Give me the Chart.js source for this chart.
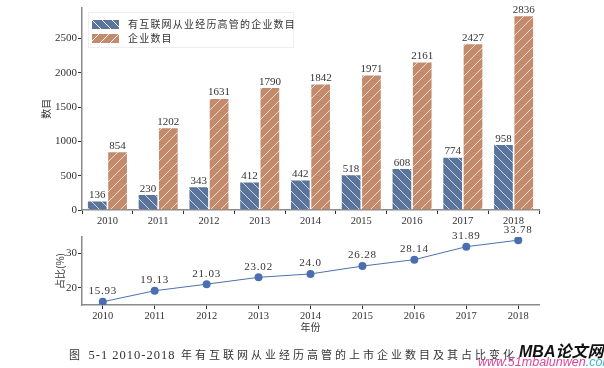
<!DOCTYPE html>
<html>
<head>
<meta charset="utf-8">
<script src="https://cdn.jsdelivr.net/npm/chart.js@4.4.1/dist/chart.umd.min.js"></script>
<style>
  body { margin: 0; background: #fff; width: 604px; height: 368px; position: relative; overflow: hidden; }
  .box { position: absolute; left: 0; width: 604px; }
  #legend { position: absolute; left: 88px; top: 12px; width: 204px; height: 34px; border: 1px solid #eee;
    background: rgba(255,255,255,0.85); font-family: "Noto Sans CJK SC", sans-serif; font-size: 10px; color: #333; }
  #legend .row { position: absolute; left: 3px; height: 12px; line-height: 12px; letter-spacing: 1.2px; white-space: nowrap; }
  #legend .sw { display: inline-block; width: 27px; height: 9px; vertical-align: middle; margin-right: 9px; margin-top: -2px; }
  #caption { position: absolute; left: 69px; top: 346px; font-family: "Noto Sans CJK SC", sans-serif; font-size: 11px;
    letter-spacing: 3px; color: #333; white-space: nowrap; }
  #caption .n { font-family: "Liberation Serif", serif; font-size: 12.5px; letter-spacing: 1px; }
  #wm1 { position: absolute; left: 519px; top: 338px; font-family: "Liberation Sans", "Noto Sans CJK SC", sans-serif;
    font-weight: bold; font-style: italic; font-size: 16px; color: #111; white-space: nowrap; }
  #wm2 { position: absolute; left: 478px; top: 355px; font-family: "Liberation Sans", sans-serif; font-style: italic;
    font-size: 12.5px; white-space: nowrap; color: #e0449c; }
  #wm2 span { color: #3ab6c9; }
</style>
</head>
<body>
<div class="box" style="top:0;height:230px"><canvas id="bars"></canvas></div>
<div class="box" style="top:220px;height:115px"><canvas id="line"></canvas></div>
<div id="legend">
  <div class="row" style="top:5px"><span class="sw" style="background:repeating-linear-gradient(45deg,#5b749b 0 6px,rgba(255,255,255,.75) 6px 7px)"></span>有互联网从业经历高管的企业数目</div>
  <div class="row" style="top:19px"><span class="sw" style="background:repeating-linear-gradient(-45deg,#c38b6c 0 6px,rgba(255,255,255,.75) 6px 7px)"></span>企业数目</div>
</div>
<div id="caption">图 <span class="n">5-1 2010-2018</span> 年有互联网从业经历高管的上市企业数目及其占比变化</div>
<div id="wm1">MBA论文网</div>
<div id="wm2">www.51mbalunwen<span>.com</span></div>
<script>
const years = [2010, 2011, 2012, 2013, 2014, 2015, 2016, 2017, 2018];
const withExec = [136, 230, 343, 412, 442, 518, 608, 774, 958];
const allFirms = [854, 1202, 1631, 1790, 1842, 1971, 2161, 2427, 2836];
const share = [15.93, 19.13, 21.03, 23.02, 24.0, 26.28, 28.14, 31.89, 33.78];
const barTicks = [0, 500, 1000, 1500, 2000, 2500];
const shareTicks = [20, 30];

const serif = '"Liberation Serif", "DejaVu Serif", serif';
const cjk = '"Noto Sans CJK SC", sans-serif';
const textColor = '#333';

function hatch(color, dir) {
  const c = document.createElement('canvas');
  c.width = c.height = 10;
  const g = c.getContext('2d');
  g.fillStyle = color;
  g.fillRect(0, 0, 10, 10);
  g.strokeStyle = 'rgba(255,255,255,0.7)';
  g.lineWidth = 1;
  g.beginPath();
  if (dir === '/') {
    g.moveTo(-1, 11); g.lineTo(11, -1);
    g.moveTo(-6, 6); g.lineTo(6, -6);
    g.moveTo(4, 16); g.lineTo(16, 4);
  } else {
    g.moveTo(-1, -1); g.lineTo(11, 11);
    g.moveTo(-6, 4); g.lineTo(6, 16);
    g.moveTo(4, -6); g.lineTo(16, 6);
  }
  g.stroke();
  return g.createPattern(c, 'repeat');
}

// value labels drawn above each bar / point
const valueLabels = {
  id: 'valueLabels',
  afterDatasetsDraw(chart, args, opts) {
    const ctx = chart.ctx;
    ctx.save();
    ctx.font = opts.font;
    ctx.letterSpacing = opts.spacing || '0px';
    ctx.fillStyle = textColor;
    ctx.textAlign = 'center';
    ctx.textBaseline = 'bottom';
    chart.data.datasets.forEach((ds, i) => {
      chart.getDatasetMeta(i).data.forEach((el, j) => {
        const v = ds.data[j];
        const val = typeof v === 'object' ? v.y : v;
        const txt = Number.isInteger(val) && opts.decimals ? val.toFixed(1) : String(val);
        ctx.fillText(txt, el.x, el.y - opts.gap);
      });
    });
    ctx.restore();
  }
};

const axisCommon = {
  border: { display: true, color: '#8a8a8a', width: 1.5 },
  grid: { drawOnChartArea: false, drawTicks: true, tickLength: 4, tickColor: '#333', tickWidth: 1 },
};

new Chart(document.getElementById('bars'), {
  type: 'bar',
  data: {
    labels: years.map(String),
    datasets: [
      { label: '有互联网从业经历高管的企业数目', data: withExec, backgroundColor: hatch('#5b749b', '\\'),
        borderColor: 'rgba(255,255,255,0.8)', borderWidth: 0.8, categoryPercentage: 0.8, barPercentage: 1 },
      { label: '企业数目', data: allFirms, backgroundColor: hatch('#c38b6c', '/'),
        borderColor: 'rgba(255,255,255,0.8)', borderWidth: 0.8, categoryPercentage: 0.8, barPercentage: 1 }
    ]
  },
  options: {
    responsive: true, maintainAspectRatio: false, animation: false,
    layout: { padding: { top: 7, right: 65, left: 0, bottom: 0 } },
    plugins: {
      legend: { display: false }, tooltip: { enabled: false },
      valueLabels: { font: '11px ' + serif, gap: 0, decimals: false }
    },
    scales: {
      x: {
        ...axisCommon,
        ticks: { color: textColor, font: { family: serif, size: 10.5 }, padding: 1 },
        afterFit: s => { s.height = 20; }
      },
      y: {
        ...axisCommon,
        min: 0, max: 2950,
        afterBuildTicks: s => { s.ticks = barTicks.map(v => ({ value: v })); },
        ticks: { color: textColor, font: { family: serif, size: 11 }, padding: 1, callback: v => String(v) },
        title: { display: true, text: '数目', color: textColor, font: { family: cjk, size: 10 }, padding: { top: 40, bottom: 0 } },
        afterFit: s => { s.width = 82; }
      }
    }
  },
  plugins: [valueLabels]
});

new Chart(document.getElementById('line'), {
  type: 'line',
  data: {
    datasets: [{
      label: '占比',
      data: years.map((y, i) => ({ x: y, y: share[i] })),
      borderColor: '#4c72b0', borderWidth: 1, backgroundColor: '#4a6fb0',
      pointRadius: 4, pointBorderWidth: 0, pointBackgroundColor: '#4a6fb0', tension: 0
    }]
  },
  options: {
    responsive: true, maintainAspectRatio: false, animation: false,
    layout: { padding: { top: 17, right: 65, left: 0, bottom: 0 } },
    plugins: {
      legend: { display: false }, tooltip: { enabled: false },
      valueLabels: { font: '11px ' + serif, gap: 5, decimals: true, spacing: '0.8px' }
    },
    scales: {
      x: {
        ...axisCommon,
        type: 'linear', min: 2009.6, max: 2018.4,
        afterBuildTicks: s => { s.ticks = years.map(v => ({ value: v })); },
        ticks: { color: textColor, font: { family: serif, size: 10.5 }, padding: 1, callback: v => String(v) },
        title: { display: true, text: '年份', color: textColor, font: { family: cjk, size: 10 }, padding: { top: 0, bottom: 2 } },
        afterFit: s => { s.height = 30; }
      },
      y: {
        ...axisCommon,
        min: 15, max: 34.7,
        afterBuildTicks: s => { s.ticks = shareTicks.map(v => ({ value: v })); },
        ticks: { color: textColor, font: { family: serif, size: 11 }, padding: 1, callback: v => String(v) },
        title: { display: true, text: '占比(%)', color: textColor, font: { family: cjk, size: 10 }, padding: { top: 54, bottom: 0 } },
        afterFit: s => { s.width = 82; }
      }
    }
  },
  plugins: [valueLabels]
});
</script>
</body>
</html>
